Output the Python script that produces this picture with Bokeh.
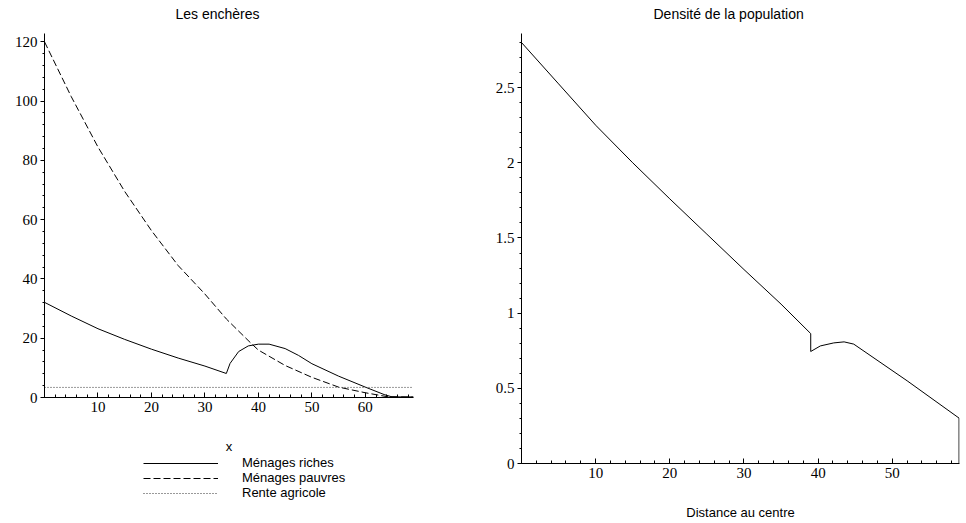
from bokeh.plotting import figure
from bokeh.layouts import row, column
from bokeh.models import Range1d, FixedTicker, Legend, LegendItem, LinearAxis, Title
from bokeh.embed import file_html
from bokeh.resources import INLINE

# ---- Data: left chart "Les enchères" ----
rich_x = [0, 5, 10, 15, 20, 25, 30, 34, 34.7, 36.3, 38.1, 40, 42, 45, 47.5, 50, 55, 60, 63.5, 65, 69]
rich_y = [32.1, 27.5, 23.2, 19.6, 16.3, 13.3, 10.6, 8.1, 11.5, 15.5, 17.4, 18.0, 18.0, 16.5, 14.2, 11.4, 7.2, 3.5, 1.0, 0.2, 0.2]
poor_x = [0, 5, 10, 15, 20, 25, 30, 34, 38.5, 40, 45, 50, 55, 60, 64, 69]
poor_y = [120, 101.5, 84.5, 69.5, 56.3, 44.5, 34.9, 26.5, 18.5, 16.0, 10.8, 6.8, 3.5, 1.6, 0.3, 0.1]
rent_x = [0, 69]
rent_y = [3.4, 3.4]

# ---- Data: right chart "Densité de la population" ----
dens_x = [0, 5, 10, 15, 20, 25, 30, 35, 39, 39, 40.3, 42.1, 43.5, 44.8, 52, 59, 59]
dens_y = [2.8, 2.525, 2.25, 2.0, 1.76, 1.525, 1.29, 1.06, 0.864, 0.745, 0.782, 0.802, 0.809, 0.794, 0.55, 0.302, 0.0]

titles = ["Les enchères", "Densité de la population"]
legend_labels = ["Ménages riches", "Ménages pauvres", "Rente agricole"]
left_major = [0, 20, 40, 60, 80, 100, 120]
left_minor = list(range(0, 124, 4))
left_xticks = [10, 20, 30, 40, 50, 60]
x_minor = list(range(0, 70, 2))
right_major = [0, 0.5, 1, 1.5, 2, 2.5]
right_minor = [round(i * 0.1, 1) for i in range(0, 29)]
right_xticks = [10, 20, 30, 40, 50]
right_ylabels = {0: "0", 0.5: "0.5", 1: "1", 1.5: "1.5", 2: "2", 2.5: "2.5"}

FONT = "Liberation Sans"
TICKFONT = "Liberation Sans Narrow"


def add_title(p, text, offset):
    # invisible spacer axis that lifts the title away from the frame
    spacer = LinearAxis(ticker=FixedTicker(ticks=[10], minor_ticks=[]), axis_line_color=None,
                        major_tick_out=12, major_tick_in=0, minor_tick_out=0, minor_tick_in=0,
                        major_tick_line_color=None, minor_tick_line_color=None,
                        major_label_standoff=0, major_label_text_font_size="1px",
                        major_label_text_color=None)
    p.add_layout(spacer, "above")
    t = Title(text=text, align="left", offset=offset, standoff=0,
              text_font=FONT, text_font_size="14px", text_font_style="normal",
              text_color="black")
    p.add_layout(t, "above")


def style(p, xlabel, xticks, yticks, yminor, ylabels=None):
    p.outline_line_color = None
    p.xgrid.visible = False
    p.ygrid.visible = False
    p.background_fill_color = "white"
    p.border_fill_color = "white"
    xa = p.below[0]
    ya = p.left[0]
    for ax in (xa, ya):
        ax.axis_line_color = "black"
        ax.major_tick_line_color = "black"
        ax.minor_tick_line_color = "black"
        ax.major_label_text_font = TICKFONT
        ax.major_label_text_font_size = "15px"
        ax.major_label_text_color = "black"
    xa.ticker = FixedTicker(ticks=xticks, minor_ticks=x_minor)
    xa.major_tick_in = 5
    xa.major_tick_out = 0
    xa.minor_tick_in = 3
    xa.minor_tick_out = 0
    xa.major_label_standoff = 4
    xa.axis_label = xlabel
    xa.axis_label_text_font = FONT
    xa.axis_label_text_font_size = "13px"
    xa.axis_label_text_font_style = "normal"
    xa.axis_label_text_color = "black"
    xa.axis_label_standoff = 24
    ya.ticker = FixedTicker(ticks=yticks, minor_ticks=yminor)
    ya.major_tick_in = 0
    ya.major_tick_out = 4
    ya.minor_tick_in = 0
    ya.minor_tick_out = 2
    ya.major_label_standoff = 3
    if ylabels:
        ya.major_label_overrides = ylabels


# ---- Left figure ----
p1 = figure(frame_width=369, frame_height=364, min_border_left=44, min_border_right=67,
            min_border_top=33, min_border_bottom=59,
            x_range=Range1d(0, 69), y_range=Range1d(0, 122.8),
            output_backend="svg", toolbar_location=None)
style(p1, "x", left_xticks, left_major, left_minor)
add_title(p1, titles[0], 131)

p1.line(rich_x, rich_y, line_color="black", line_width=1)
p1.line(poor_x, poor_y, line_color="black", line_width=1, line_dash="7 3")
p1.line(rent_x, rent_y, line_color="#333333", line_width=1, line_dash="1 2")

# ---- Legend strip below the left chart ----
nan = float("nan")
pleg = figure(frame_width=480, frame_height=67, min_border=0,
              x_range=Range1d(0, 1), y_range=Range1d(0, 1),
              x_axis_type=None, y_axis_type=None,
              output_backend="svg", toolbar_location=None)
pleg.outline_line_color = None
pleg.xgrid.visible = False
pleg.ygrid.visible = False
l_rich = pleg.line([nan], [nan], line_color="black", line_width=1)
l_poor = pleg.line([nan], [nan], line_color="black", line_width=1, line_dash="7 3")
l_rent = pleg.line([nan], [nan], line_color="#333333", line_width=1, line_dash="1 2")
legend = Legend(items=[LegendItem(label=legend_labels[0], renderers=[l_rich]),
                       LegendItem(label=legend_labels[1], renderers=[l_poor]),
                       LegendItem(label=legend_labels[2], renderers=[l_rent])],
                location=(143, 23), orientation="vertical",
                padding=0, margin=0, spacing=0, glyph_width=75, glyph_height=14,
                label_height=14, label_standoff=24,
                label_text_font=FONT, label_text_font_size="13px", label_text_color="black",
                label_text_line_height=1.0,
                border_line_color=None, background_fill_alpha=0)
pleg.add_layout(legend)

# ---- Right figure ----
p2 = figure(frame_width=438, frame_height=430, min_border_left=41, min_border_right=7,
            min_border_top=33, min_border_bottom=60,
            x_range=Range1d(0, 59.06), y_range=Range1d(0, 2.86),
            output_backend="svg", toolbar_location=None)
style(p2, "Distance au centre", right_xticks, right_major, right_minor, right_ylabels)
add_title(p2, titles[1], 132)
p2.line(dens_x, dens_y, line_color="black", line_width=1)

layout = row(column(p1, pleg), p2)
open("out.html", "w").write(file_html(layout, INLINE))
